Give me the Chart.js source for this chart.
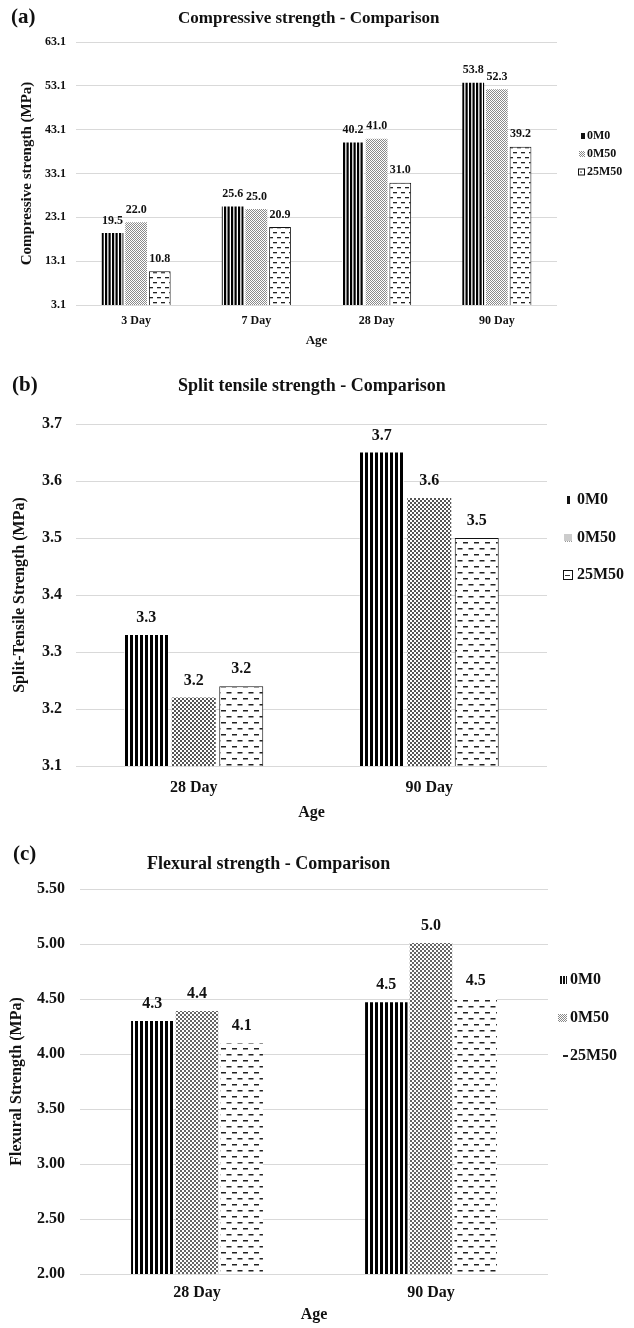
<!DOCTYPE html>
<html><head><meta charset="utf-8">
<script src="https://cdn.jsdelivr.net/npm/chart.js@4.4.1/dist/chart.umd.min.js"></script>
<style>
html,body{margin:0;padding:0;background:#fff;}
#page{position:relative;width:634px;height:1328px;overflow:hidden;font-family:"Liberation Serif","Times New Roman",serif;font-weight:bold;color:#111;}
canvas{position:absolute;left:0;}
.lbl{position:absolute;white-space:nowrap;}
</style></head><body>
<div id="page">
<canvas id="chartA" width="634" height="355" style="top:0px"></canvas>
<canvas id="chartB" width="634" height="470" style="top:360px"></canvas>
<canvas id="chartC" width="634" height="498" style="top:830px"></canvas>
<div class="lbl" style="left:11px;top:4px;font-size:21px;line-height:25px">(a)</div>
<div class="lbl" style="left:178px;top:8px;font-size:17px;line-height:20px">Compressive strength - Comparison</div>
<div class="lbl" style="left:12px;top:372px;font-size:21px;line-height:25px">(b)</div>
<div class="lbl" style="left:178px;top:374px;font-size:18px;line-height:22px">Split tensile strength - Comparison</div>
<div class="lbl" style="left:13px;top:841px;font-size:21px;line-height:25px">(c)</div>
<div class="lbl" style="left:147px;top:852px;font-size:18px;line-height:22px">Flexural strength - Comparison</div>
</div>
<script>
// ---------- data ----------
const seriesNames = ['0M0', '0M50', '25M50'];

const categoriesA = ['3 Day', '7 Day', '28 Day', '90 Day'];
const a0M0   = [19.5, 25.6, 40.2, 53.8];
const a0M50  = [22.0, 25.0, 41.0, 52.3];
const a25M50 = [10.8, 20.9, 31.0, 39.2];
const ticksA = [3.1, 13.1, 23.1, 33.1, 43.1, 53.1, 63.1];

const categoriesB = ['28 Day', '90 Day'];
const b0M0   = [3.33, 3.65];
const b0M50  = [3.22, 3.57];
const b25M50 = [3.24, 3.50];
const ticksB = [3.1, 3.2, 3.3, 3.4, 3.5, 3.6, 3.7];

const categoriesC = ['28 Day', '90 Day'];
const c0M0   = [4.30, 4.47];
const c0M50  = [4.39, 5.01];
const c25M50 = [4.10, 4.51];
const ticksC = [2.0, 2.5, 3.0, 3.5, 4.0, 4.5, 5.0, 5.5];

// ---------- styling helpers ----------
Chart.defaults.font.family = '"Liberation Serif", "Times New Roman", serif';
Chart.defaults.font.weight = 'bold';
Chart.defaults.color = '#111';

function makeTile(w, h, draw) {
  const c = document.createElement('canvas'); c.width = w; c.height = h;
  const g = c.getContext('2d'); g.fillStyle = '#fff'; g.fillRect(0, 0, w, h);
  draw(g, w, h); return c;
}
const patCtx = document.createElement('canvas').getContext('2d');
function pattern(tile) { return patCtx.createPattern(tile, 'repeat'); }
function stripeTile(period, black) {
  return makeTile(period * 2, 4, g => { g.fillStyle = '#000'; g.fillRect(0, 0, black, 4); g.fillRect(period, 0, black, 4); });
}
function dotTile(s, color) {
  return makeTile(2 * s, 2 * s, g => { g.fillStyle = color; g.fillRect(0, 0, s, s); g.fillRect(s, s, s, s); });
}
function dashTile(w, h, dw, dh, color) {
  return makeTile(w, h, g => {
    g.fillStyle = color;
    const y1 = Math.round(h / 4 - dh / 2), y2 = Math.round(3 * h / 4 - dh / 2);
    g.fillRect(1, y1, dw, dh);
    g.fillRect(1 + w / 2, y2, dw, dh);
    g.fillRect(1 + w / 2 - w, y2, dw, dh);
  });
}

// legend swatch drawers
function swSolid(g, x, y, w, h) { g.fillStyle = '#111'; g.fillRect(x, y, w, h); }
function swStripes(g, x, y, w, h) { g.fillStyle = '#111'; for (let k = 0; k < w; k += 3) g.fillRect(x + k, y, Math.min(2, w - k), h); }
function swDots(color) { return (g, x, y, w, h) => { g.fillStyle = color; for (let i = 0; i < w; i++) for (let j = 0; j < h; j++) if ((i + j) % 2 === 0) g.fillRect(x + i, y + j, 1, 1); }; }
function swBox(g, x, y, w, h) {
  g.fillStyle = '#fff'; g.fillRect(x, y, w, h);
  g.strokeStyle = '#111'; g.lineWidth = 1; g.strokeRect(x + 0.5, y + 0.5, w - 1, h - 1);
  g.fillStyle = '#333'; g.fillRect(x + 2, y + Math.floor(h / 2), Math.max(2, w - 5), 1);
}
function swDash(g, x, y, w, h) { g.fillStyle = '#222'; g.fillRect(x, y, w, h); }

function swatchImage(sw, cx) {
  const dx = sw.left - cx;
  const half = Math.ceil(Math.max(Math.abs(dx), Math.abs(dx + sw.w))) + 1;
  const H = sw.h % 2 ? sw.h + 1 : sw.h;
  const c = document.createElement('canvas'); c.width = half * 2; c.height = H;
  const g = c.getContext('2d');
  sw.draw(g, half + dx, (H - sw.h) / 2, sw.w, sw.h);
  return c;
}

// ---------- plugins ----------
const legendPlace = {
  id: 'legendPlace',
  afterLayout(chart, args, opts) {
    const lg = chart.legend; if (!lg) return;
    lg.left = opts.left; lg.top = opts.top;
    lg.right = chart.width; lg.bottom = chart.height;
    lg.width = lg.right - lg.left; lg.height = lg.bottom - lg.top;
  }
};
const barValues = {
  id: 'barValues',
  afterDatasetsDraw(chart, args, opts) {
    const ctx = chart.ctx; ctx.save();
    ctx.font = 'bold ' + opts.size + 'px "Liberation Serif", "Times New Roman", serif';
    ctx.fillStyle = '#111'; ctx.textAlign = 'center'; ctx.textBaseline = 'middle';
    const f = Math.pow(10, opts.decimals);
    chart.data.datasets.forEach((ds, di) => {
      chart.getDatasetMeta(di).data.forEach((el, i) => {
        const v = Math.round(ds.data[i] * f) / f;
        ctx.fillText(v.toFixed(opts.decimals), el.x, el.y - opts.offset);
      });
    });
    ctx.restore();
  }
};

function buildChart(id, o) {
  const W = 2;
  const lgLeft = o.lg.textX - o.lg.f / 2 - W - o.lg.p;
  const lgTop = o.lg.firstY - o.lg.f / 2 - o.lg.p;
  const cx = lgLeft + o.lg.p + W / 2;
  const imgs = o.lg.sw.map(s => swatchImage(s, cx));
  return new Chart(document.getElementById(id), {
    type: 'bar',
    data: {
      labels: o.labels,
      datasets: o.series.map((s, i) => ({
        label: seriesNames[i], data: s,
        backgroundColor: o.fills[i], borderColor: '#111', borderWidth: o.borders[i], borderSkipped: false,
        categoryPercentage: o.catPct, barPercentage: o.barPct
      }))
    },
    options: {
      responsive: false, animation: false, devicePixelRatio: 1,
      layout: { padding: o.pad },
      scales: {
        x: {
          grid: { display: false, drawTicks: false }, border: { display: false },
          ticks: { font: { size: o.xTickSize }, padding: o.xTickPad, color: '#111' },
          title: { display: true, text: 'Age', font: { size: o.xTitleSize }, padding: { top: 0, bottom: o.xTitlePadB }, color: '#111' },
          afterFit: s => { s.height = o.xHeight; }
        },
        y: {
          min: o.ticks[0], max: o.ticks[o.ticks.length - 1],
          afterBuildTicks: s => { s.ticks = o.ticks.map(v => ({ value: v })); },
          grid: { color: '#d9d9d9', drawTicks: false, lineWidth: 1 },
          border: { display: false },
          ticks: { font: { size: o.yTickSize }, padding: o.yTickPad, color: '#111', callback: v => Number(v).toFixed(o.dec) },
          title: { display: true, text: o.yTitle, font: { size: o.yTitleSize }, padding: { top: o.yTitlePadT, bottom: 0 }, color: '#111' },
          afterFit: s => { s.width = o.yWidth; }
        }
      },
      plugins: {
        title: { display: false }, tooltip: { enabled: false },
        legend: {
          position: 'chartArea', align: 'start',
          labels: {
            usePointStyle: true, pointStyleWidth: W, padding: o.lg.p, textAlign: 'left',
            font: { size: o.lg.f }, color: '#111',
            generateLabels: chart => {
              const items = Chart.defaults.plugins.legend.labels.generateLabels(chart);
              items.forEach((it, i) => { it.pointStyle = imgs[i]; it.fontColor = '#111'; it.lineWidth = 0; });
              return items;
            }
          }
        },
        legendPlace: { left: lgLeft, top: lgTop },
        barValues: { size: o.valSize, offset: o.valOffset, decimals: o.valDec }
      }
    },
    plugins: [legendPlace, barValues]
  });
}

// ---------- chart (a) ----------
buildChart('chartA', {
  labels: categoriesA, series: [a0M0, a0M50, a25M50], ticks: ticksA, dec: 1,
  fills: [pattern(stripeTile(3.5, 2.2)), pattern(dotTile(1, '#8a8a8a')), pattern(dashTile(8, 10, 4, 1.3, '#222'))],
  borders: [0, 0, 1], catPct: 0.59, barPct: 0.92,
  pad: { left: 0, top: 42, right: 77, bottom: 0 },
  yWidth: 76, yTickSize: 12, yTickPad: 10, yTitle: 'Compressive strength (MPa)', yTitleSize: 15, yTitlePadT: 18,
  xHeight: 50, xTickSize: 12, xTickPad: 9, xTitleSize: 13, xTitlePadB: 7,
  valSize: 12, valOffset: 12.5, valDec: 1,
  lg: { f: 12, p: 6, textX: 587, firstY: 136,
        sw: [ { left: 581, w: 4, h: 6, draw: swSolid },
              { left: 579, w: 6, h: 6, draw: swDots('#888') },
              { left: 578, w: 7, h: 7, draw: swBox } ] }
});

// ---------- chart (b) ----------
buildChart('chartB', {
  labels: categoriesB, series: [b0M0, b0M50, b25M50], ticks: ticksB, dec: 1,
  fills: [pattern(stripeTile(5, 3)), pattern(dotTile(2, '#555')), pattern(dashTile(11, 12, 5, 1.5, '#222'))],
  borders: [0, 0, 1], catPct: 0.605, barPct: 0.926,
  pad: { left: 0, top: 64, right: 87, bottom: 0 },
  yWidth: 76, yTickSize: 16, yTickPad: 14, yTitle: 'Split-Tensile Strength (MPa)', yTitleSize: 16, yTitlePadT: 10.4,
  xHeight: 64, xTickSize: 16, xTickPad: 12.4, xTitleSize: 16, xTitlePadB: 7.4,
  valSize: 16, valOffset: 17, valDec: 1,
  lg: { f: 16, p: 21.5, textX: 577, firstY: 140,
        sw: [ { left: 567, w: 3, h: 8, draw: swSolid },
              { left: 564, w: 8, h: 8, draw: swDots('#999') },
              { left: 563, w: 10, h: 10, draw: swBox } ] }
});

// ---------- chart (c) ----------
buildChart('chartC', {
  labels: categoriesC, series: [c0M0, c0M50, c25M50], ticks: ticksC, dec: 2,
  fills: [pattern(stripeTile(5, 3)), pattern(dotTile(2, '#666')), pattern(dashTile(11, 12, 5, 1.5, '#222'))],
  borders: [0, 0, 0], catPct: 0.573, barPct: 0.95,
  pad: { left: 0, top: 59, right: 86, bottom: 0 },
  yWidth: 80, yTickSize: 16, yTickPad: 15, yTitle: 'Flexural Strength (MPa)', yTitleSize: 16, yTitlePadT: 7.4,
  xHeight: 54, xTickSize: 16, xTickPad: 9.4, xTitleSize: 16, xTitlePadB: 3.4,
  valSize: 16, valOffset: 17, valDec: 1,
  lg: { f: 16, p: 22, textX: 570, firstY: 150,
        sw: [ { left: 560, w: 7, h: 8, draw: swStripes },
              { left: 558, w: 9, h: 8, draw: swDots('#888') },
              { left: 563, w: 5, h: 2, draw: swDash } ] }
});
</script>
</body></html>
